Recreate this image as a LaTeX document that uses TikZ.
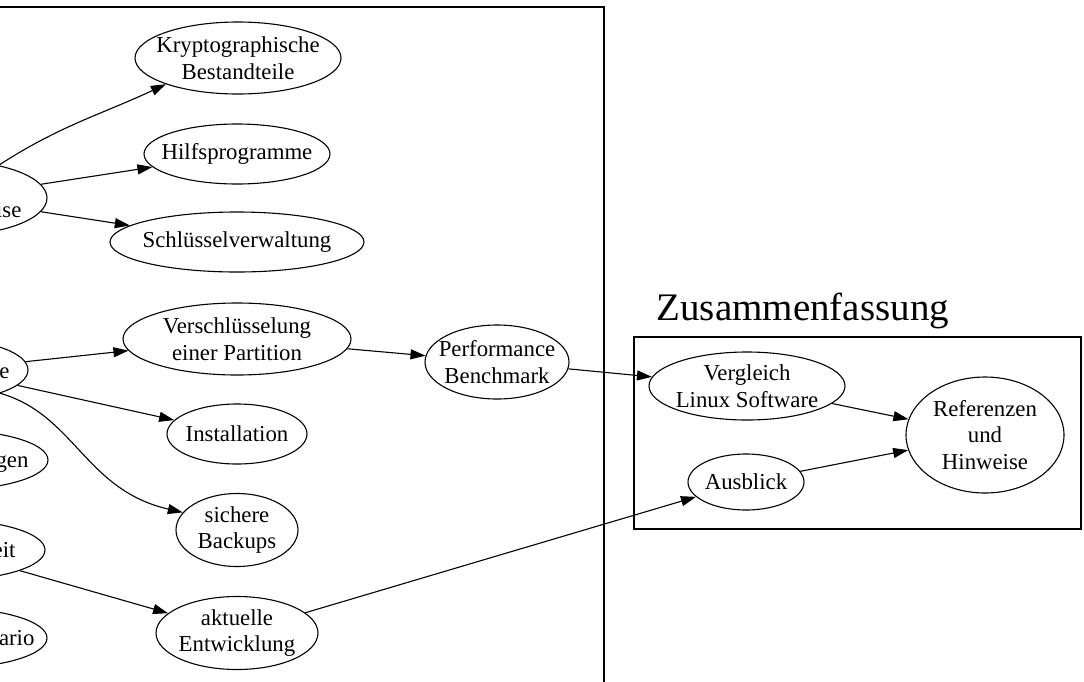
\documentclass[tikz,border=0pt]{standalone}
\usepackage{fontspec}
\setmainfont{Liberation Serif}
\usetikzlibrary{shapes.geometric,arrows.meta}
\newcommand{\gvfont}{\fontsize{22.8}{26.7}\selectfont}
\tikzset{
  topic/.style={draw, ellipse, inner xsep=-25pt, inner ysep=-16pt, align=center, font=\gvfont, line width=1.1pt},
  flow/.style={-{Triangle[length=15pt,width=10pt]}, line width=1.1pt},
}
\begin{document}
\begin{tikzpicture}[x=1pt,y=1pt]
        \useasboundingbox (0,0) rectangle (1084,-681);
        \clip (0,0) rectangle (1084,-681);

        \begin{scope}[]
        \draw[line width=1.1pt] (-30,-7) rectangle (604,-720);
        \node[topic, minimum width=190pt, minimum height=74pt] (fw) at (-48,-198) {};
        \node[anchor=base east, font=\gvfont] (fwtxt) at (25,-217) {ise};
        \node[topic, minimum width=160pt, minimum height=60pt] (pb) at (-52,-370) {};
        \node[anchor=base east, font=\gvfont] (pbtxt) at (13,-378) {le};
        \node[topic, minimum width=200pt, minimum height=60pt] (gl) at (-52,-460) {};
        \node[anchor=base east, font=\gvfont] (gltxt) at (32,-467) {gen};
        \node[topic, minimum width=194pt, minimum height=60pt] (sh) at (-52,-550) {};
        \node[anchor=base east, font=\gvfont] (shtxt) at (19,-557) {eit};
        \node[topic, minimum width=198pt, minimum height=60pt] (sz) at (-52,-638) {};
        \node[anchor=base east, font=\gvfont] (sztxt) at (38,-645) {ario};

        \node[topic, minimum width=206pt, minimum height=72pt] (krypto) at (238,-58) {Kryptographische\\Bestandteile};
        \node[topic, minimum width=186pt, minimum height=60pt] (hilfs) at (237,-154) {Hilfsprogramme};
        \node[topic, minimum width=254pt, minimum height=60pt] (schluessel) at (237,-242) {Schlüsselverwaltung};
        \node[topic, minimum width=228pt, minimum height=72pt] (partition) at (237,-339) {Verschlüsselung\\einer Partition};
        \node[topic, minimum width=140pt, minimum height=60pt] (install) at (237,-434) {Installation};
        \node[topic, minimum width=122pt, minimum height=73pt] (backup) at (237,-530) {sichere\\Backups};
        \node[topic, minimum width=162pt, minimum height=73pt] (aktuell) at (237,-633) {aktuelle\\Entwicklung};
        \node[topic, minimum width=144pt, minimum height=74pt] (bench) at (497,-362) {Performance\\Benchmark};
        \end{scope}

        \begin{scope}[]
        \draw[line width=1.1pt] (634,-337) rectangle (1081,-529);
        \node[anchor=base west, font=\fontsize{39}{39}\selectfont] (zf) at (653,-320) {Zusammenfassung};
        \node[topic, minimum width=196pt, minimum height=68pt] (vergleich) at (747,-386) {Vergleich\\Linux Software};
        \node[topic, minimum width=116pt, minimum height=56pt] (ausblick) at (746,-482) {Ausblick};
        \node[topic, minimum width=158pt, minimum height=116pt] (refs) at (985,-435) {Referenzen\\und\\Hinweise};
        \end{scope}

        \draw[flow] (fw.35) to[out=33,in=205] (krypto.200);
        \draw[flow] (fw) -- (hilfs);
        \draw[flow] (fw) -- (schluessel);
        \draw[flow] (pb) -- (partition);
        \draw[flow] (pb) -- (install);
        \draw[flow] (pb.-24) .. controls (75,-415) and (85,-490) .. (backup.162);
        \draw[flow] (sh) -- (aktuell);
        \draw[flow] (partition) -- (bench);
        \draw[flow] (bench) -- (vergleich);
        \draw[flow] (aktuell) -- (ausblick);
        \draw[flow] (vergleich) -- (refs);
        \draw[flow] (ausblick) -- (refs);
\end{tikzpicture}
\end{document}
